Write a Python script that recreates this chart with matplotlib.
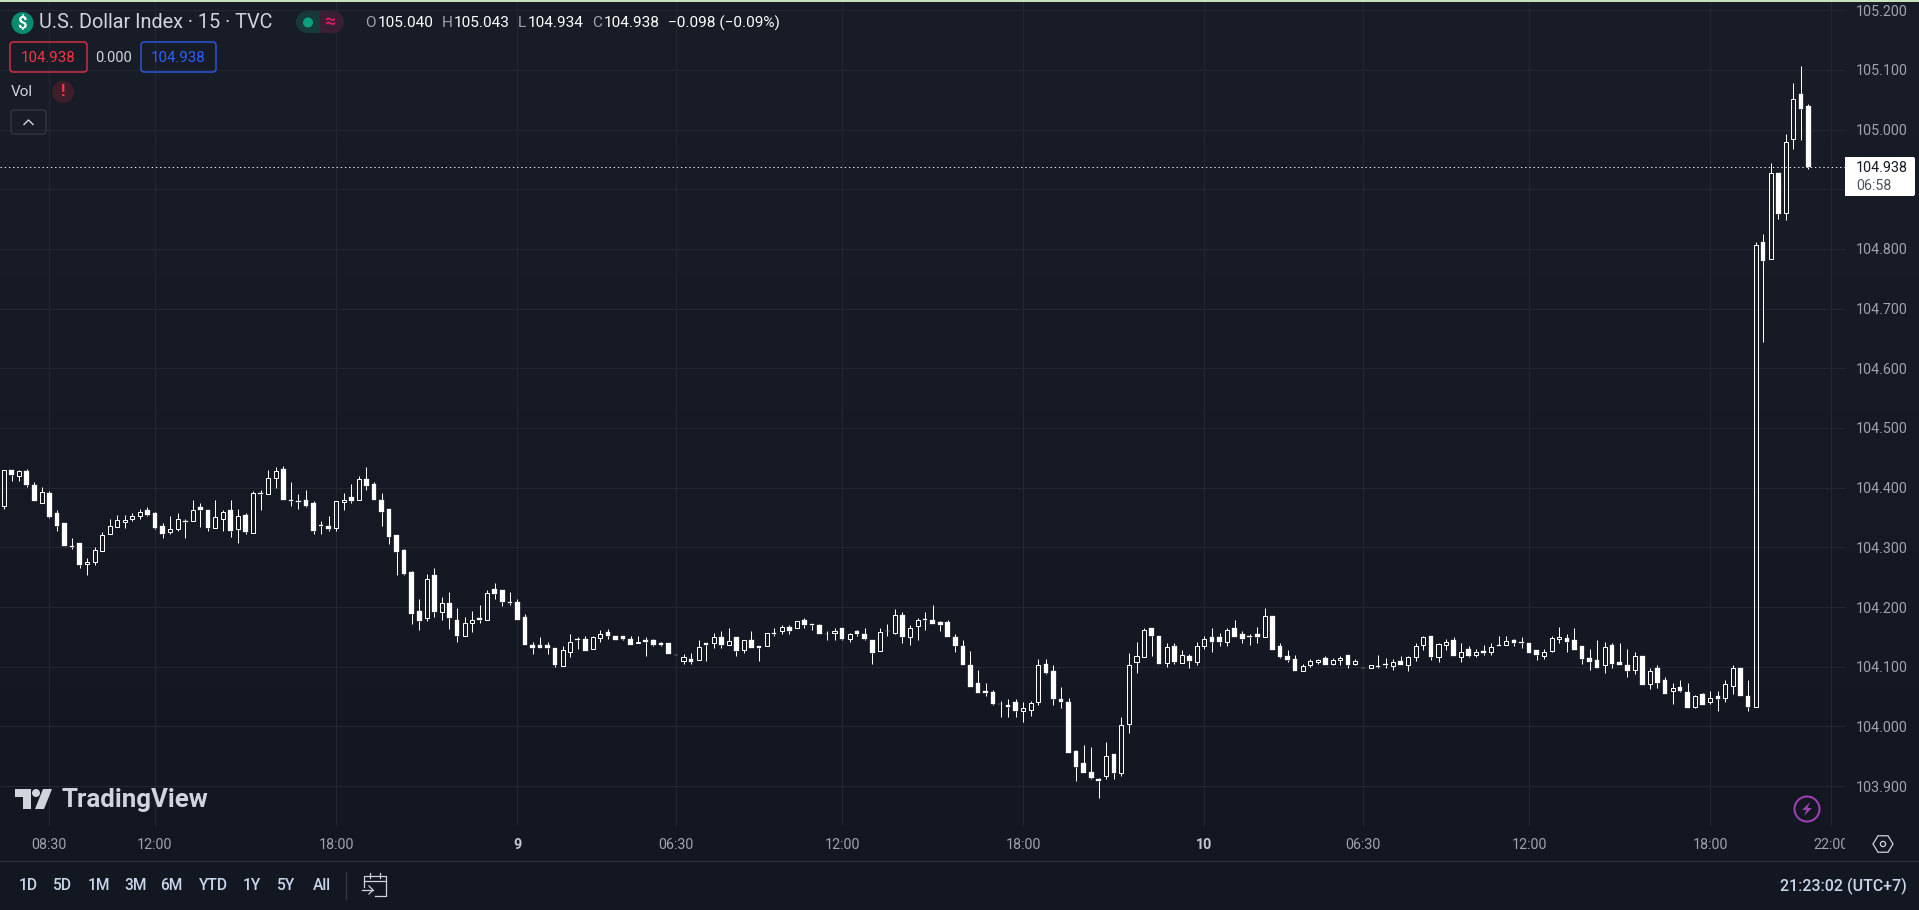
import numpy as np
import matplotlib
matplotlib.use("Agg")
import matplotlib.pyplot as plt
from matplotlib.patches import Circle, FancyBboxPatch, Polygon, Rectangle, Ellipse
from matplotlib.transforms import Bbox

# prices are stored in thousandths above BASE
BASE = 104.0
opens_m = [369,430,420,428,404,374,391,357,340,303,
307,272,275,294,322,334,343,348,353,362,
357,335,326,331,344,344,367,362,332,347,
362,331,354,324,391,389,416,431,380,377,
379,374,337,335,332,376,384,380,414,406,
379,364,320,295,258,194,182,253,192,206,
179,151,173,181,178,230,228,209,208,183,
137,136,137,131,101,125,146,146,130,148,
158,152,151,146,139,145,145,140,139,120,
109,113,111,139,139,150,137,149,128,145,
134,135,157,159,167,164,179,172,170,155,
156,164,147,160,155,145,126,160,156,187,
149,168,180,179,175,175,150,135,103,72,
60,58,38,36,41,25,28,40,105,93,
46,41,-42,-61,-76,-88,-84,-46,-78,4,
107,117,165,152,106,135,106,118,107,134,
150,149,141,165,155,152,154,149,185,134,
118,113,93,103,108,115,104,111,120,104,
98,98,101,104,101,110,103,116,137,152,
117,137,144,117,130,120,127,124,136,137,
144,142,139,128,118,127,146,148,145,134,
115,112,102,137,108,103,94,118,71,98,
77,60,66,58,32,55,41,51,47,67,
97,51,32,811,784,927,861,984,1059,1040]
highs_m = [430,430,430,431,409,401,394,362,340,315,
307,282,301,325,347,355,354,357,364,367,
359,340,352,357,347,379,374,362,380,362,
380,364,357,394,396,429,434,437,409,389,
396,377,344,352,378,391,406,419,434,409,
391,365,320,297,260,213,255,266,216,225,
199,184,194,203,228,241,228,225,214,188,
141,149,141,131,134,154,149,151,152,161,
163,152,152,151,152,149,147,142,139,120,
122,123,144,140,157,160,164,149,145,160,
135,156,165,170,170,177,182,172,172,160,
165,165,157,162,165,145,165,172,196,191,
169,182,192,204,177,179,155,145,127,95,
73,61,43,46,46,41,43,113,113,103,
66,48,-39,-32,-34,-86,-27,-46,16,123,
142,165,165,152,139,139,128,122,142,152,
164,157,164,179,159,155,167,199,185,140,
128,120,105,113,113,118,115,118,120,113,
98,103,120,115,113,118,118,139,152,152,
140,147,149,139,135,130,137,140,152,152,
147,150,140,128,130,152,167,155,164,134,
130,144,142,140,139,130,125,118,97,102,
82,73,77,72,53,56,60,60,78,103,
97,78,812,825,944,927,992,1078,1107,1043]
lows_m = [364,411,411,401,377,374,349,328,303,297,
265,253,270,294,322,334,332,344,347,352,
330,315,323,327,315,344,334,328,332,327,
318,308,323,324,362,389,399,379,370,365,
367,323,322,327,328,362,375,379,396,379,
335,305,253,253,171,161,176,183,179,163,
141,151,158,174,178,214,201,204,179,137,
122,131,122,99,101,116,129,127,130,141,
146,144,144,137,139,118,134,135,122,119,
105,105,111,110,132,132,137,118,123,132,
110,134,152,155,155,164,164,162,154,145,
145,145,142,152,145,105,126,152,154,139,
137,144,162,172,159,149,125,102,66,56,
51,35,16,16,16,8,18,36,87,35,
31,-44,-91,-78,-88,-120,-88,-89,-84,-11,
90,117,118,105,100,105,106,97,103,130,
125,135,134,149,139,137,140,149,128,115,
108,93,92,100,105,103,103,102,97,103,
97,97,97,98,95,102,92,110,128,112,
108,128,118,108,117,117,120,120,134,137,
135,132,123,112,113,125,140,125,128,105,
95,97,90,98,102,83,87,70,63,65,
55,38,58,30,30,35,38,26,41,55,
51,25,32,644,784,851,849,968,982,934]
closes_m = [430,421,428,404,377,393,350,335,303,301,
270,276,296,321,336,345,346,353,359,355,
332,322,331,347,343,363,362,332,350,360,
328,352,325,391,389,417,428,380,377,376,
370,328,336,330,378,380,377,415,402,379,
360,318,293,256,189,176,247,191,207,181,
151,174,178,179,224,221,208,206,179,137,
132,132,132,102,128,142,145,127,149,154,
152,144,146,137,142,142,137,137,122,119,
117,108,133,137,150,137,143,127,144,132,
131,156,154,166,160,177,169,169,154,154,
160,147,155,155,147,123,158,159,187,149,
165,178,179,172,169,149,134,102,66,56,
56,38,37,33,25,31,39,103,90,45,
41,-44,-68,-78,-86,-91,-50,-79,2,103,
118,161,152,105,133,108,120,110,135,147,
142,142,161,150,147,149,149,185,128,117,
112,93,101,109,112,103,111,114,103,109,
97,102,99,103,108,102,117,135,150,117,
138,142,118,124,118,125,123,133,135,143,
139,139,123,120,125,148,150,142,128,113,
108,97,133,105,102,92,118,70,93,73,
55,64,60,30,51,36,47,45,71,98,
51,33,807,780,928,858,979,1052,1035,938]

time_tick_bars = [6, 20, 44, 68, 89, 111, 135, 159, 180, 202, 226, 242]
time_tick_labels = ["08:30", "12:00", "18:00", "9", "06:30", "12:00", "18:00", "10",
                    "06:30", "12:00", "18:00", "22:00"]
price_ticks = [103.9, 104.0, 104.1, 104.2, 104.3, 104.4, 104.5, 104.6, 104.7,
               104.8, 104.9, 105.0, 105.1, 105.2]
hidden_price_label = 104.9  # sits under the last-price tag in the reference
ranges = ["1D", "5D", "1M", "3M", "6M", "YTD", "1Y", "5Y", "All"]
range_x = [28, 62, 99, 135.5, 171, 213, 252, 286.5, 322]

W, H = 1919, 910
FONT = "Roboto"
plt.rcParams["font.family"] = [FONT, "DejaVu Sans"]
GRID = "#232733"
GREY = "#A0A3AC"
LIGHT = "#D1D4DC"

opens = BASE + np.array(opens_m) / 1000
highs = BASE + np.array(highs_m) / 1000
lows = BASE + np.array(lows_m) / 1000
closes = BASE + np.array(closes_m) / 1000
idx = np.arange(len(opens))

fig = plt.figure(figsize=(W / 100, H / 100), dpi=100, facecolor="#131722")

# background gradient
bg = fig.add_axes([0, 0, 1, 1], zorder=0)
top_c = np.array([25, 29, 40]) / 255
bot_c = np.array([19, 23, 34]) / 255
t = np.clip(np.linspace(0, 1, H) / (826 / 910), 0, 1)[:, None, None]
bg.imshow(top_c[None, None, :] * (1 - t) + bot_c[None, None, :] * t, aspect="auto", extent=[0, W, H, 0])
bg.axis("off")

# main pane
PX_TOP, PX_BOT, PX_RIGHT = 2, 826, 1845
BAR_S, BAR_0 = 7.55, 4.0
PX_PER_UNIT, PX_AT_1052 = 596.7, 10.3
ax = fig.add_axes([0, (H - PX_BOT) / H, PX_RIGHT / W, (PX_BOT - PX_TOP) / H], zorder=1)
ax.patch.set_alpha(0)
for s in ax.spines.values():
    s.set_visible(False)
ax.set_xlim(-BAR_0 / BAR_S, (PX_RIGHT - BAR_0) / BAR_S)
ax.set_ylim(105.2 - (PX_BOT - PX_AT_1052) / PX_PER_UNIT, 105.2 + (PX_AT_1052 - PX_TOP) / PX_PER_UNIT)
ax.set_xticks(time_tick_bars)
ax.set_xticklabels(time_tick_labels)
ax.set_yticks(price_ticks)
ax.set_yticklabels(["" if p == hidden_price_label else f"{p:.3f}" for p in price_ticks])
ax.grid(True, color=GRID, lw=0.8)
ax.set_axisbelow(True)
ax.tick_params(axis="both", length=0, labelcolor=GREY, labelsize=10.3)
ax.tick_params(axis="y", left=False, labelleft=False, right=False, labelright=True, pad=8)
ax.tick_params(axis="x", pad=8.5)
clip = Bbox([[0, 0], [PX_RIGHT, H]])
for lab in ax.get_xticklabels():
    lab.set_clip_box(clip)
    lab.set_clip_on(True)
    if lab.get_text() in ("9", "10"):
        lab.set_color("#C4C7D0")
        lab.set_fontweight("bold")

# candles
LW = 0.72
top = np.maximum(opens, closes)
bot = np.minimum(opens, closes)
ax.vlines(idx, top, highs, color="white", lw=LW, zorder=3)
ax.vlines(idx, lows, bot, color="white", lw=LW, zorder=3)
up = closes > opens
ax.bar(idx[up], (top - bot)[up], bottom=bot[up], width=0.53, facecolor="none",
       edgecolor="white", linewidth=LW, zorder=4)
ax.bar(idx[~up], np.maximum((top - bot)[~up], 0.0008), bottom=bot[~up], width=0.62, facecolor="white",
       edgecolor="white", linewidth=0.2, zorder=4)
last = closes[-1]
ax.axhline(last, color="#E8E9EC", lw=LW, ls=(0, (1.4, 2.8)), zorder=2)

# interface layer in pixel coordinates
ui = fig.add_axes([0, 0, 1, 1], zorder=2)
ui.set_xlim(0, W)
ui.set_ylim(H, 0)
ui.axis("off")
ui.patch.set_alpha(0)


def txt(x, y, s, size=10.3, color=LIGHT, ha="left", weight="normal"):
    ui.text(x, y, s, fontsize=size, color=color, ha=ha, va="center", fontweight=weight)


def rbox(x0, y0, x1, y1, ec, fc="none", r=3, lw=0.9):
    ui.add_patch(FancyBboxPatch((x0 + r, y0 + r), x1 - x0 - 2 * r, y1 - y0 - 2 * r,
                                boxstyle=f"round,pad={r},rounding_size={r}", ec=ec, fc=fc, lw=lw))


# top strip
ui.add_patch(Rectangle((0, 0), W, 2, fc="#C5E3BC", ec="none"))

# header
ui.add_patch(Circle((22.5, 23), 11, fc="#0B8A70", ec="none"))
txt(22.5, 23, "$", size=12, color="white", ha="center", weight="bold")
txt(39, 23, "U.S. Dollar Index · 15 · TVC", size=14.3, color=LIGHT)
ui.add_patch(Rectangle((307, 11), 13, 22, fc="#17393A", ec="none"))
ui.add_patch(Circle((307, 22), 11, fc="#17393A", ec="none"))
ui.add_patch(Rectangle((320, 11), 13, 22, fc="#3A1E33", ec="none"))
ui.add_patch(Circle((333, 22), 11, fc="#3A1E33", ec="none"))
ui.add_patch(Circle((308, 22.5), 5, fc="#0E9F80", ec="none"))
txt(331, 22, "≈", size=14, color="#D81B60", ha="center", weight="bold")

ohlc = [(365, "O", GREY), (378, "105.040", "white"), (442, "H", GREY), (454, "105.043", "white"),
        (518, "L", GREY), (528, "104.934", "white"), (592, "C", GREY), (604, "104.938", "white"),
        (668, "−0.098 (−0.09%)", "white")]
for x, s, c in ohlc:
    txt(x, 23, s, size=11.1, color=c)

rbox(10, 42, 87, 72, "#F23645")
txt(48.5, 57.5, "104.938", size=10.8, color="#F23645", ha="center")
txt(113, 57.5, "0.000", size=10.5, color=LIGHT, ha="center")
rbox(141, 42, 216, 72, "#2962FF")
txt(178.5, 57.5, "104.938", size=10.8, color="#2962FF", ha="center")

txt(11, 92, "Vol", size=11, color=LIGHT)
ui.add_patch(Ellipse((63, 92), 22, 22, fc="#3D1F2A", ec="none"))
txt(63, 92, "!", size=12, color="#F23645", ha="center", weight="bold")
rbox(11, 110, 46, 134, "#363A45")
ui.plot([24, 28.5, 33], [124.5, 120, 124.5], color=LIGHT, lw=1)

# logo
ui.add_patch(Polygon([(15, 789), (31, 789), (31, 809), (23, 809), (23, 797), (15, 797)], fc=LIGHT, ec="none"))
ui.add_patch(Circle((36, 793), 4, fc=LIGHT, ec="none"))
ui.add_patch(Polygon([(43, 789), (52, 789), (44, 809), (35, 809)], fc=LIGHT, ec="none"))
txt(61, 800.5, "TradingView", size=18.6, color=LIGHT, weight="bold")

# last price tag
rbox(1845, 157, 1915, 196, "white", fc="white", r=2, lw=0)
ui.add_patch(Rectangle((1845, 157), 10, 39, fc="white", ec="none"))
txt(1856, 168, f"{last:.3f}", size=10.3, color="#131722")
txt(1856, 186, "06:58", size=10.3, color="#50535E")

# lightning
ui.add_patch(Circle((1807, 809), 12.5, fc="none", ec="#9C3FB0", lw=1.5))
ui.add_patch(Polygon([(1810, 802), (1802, 810), (1806.5, 810), (1804, 816), (1812, 808), (1807.5, 808)],
                     fc="#9C3FB0", ec="none"))

# settings hexagon
ang = np.deg2rad(np.arange(0, 360, 60))
ui.add_patch(Polygon(np.c_[1883 + 10 * np.cos(ang), 844 + 9.5 * np.sin(ang)], fc="none", ec=LIGHT, lw=0.9))
ui.add_patch(Circle((1883, 844), 2.6, fc="none", ec=LIGHT, lw=0.9))

# footer
ui.plot([0, W], [861, 861], color="#2A2E39", lw=0.9)
for x, s in zip(range_x, ranges):
    txt(x, 886, s, size=11.2, color="#C9D6EA", ha="center", weight="medium")
ui.plot([346, 346], [872, 899], color="#363A45", lw=0.9)
cal = dict(color=LIGHT, lw=0.9)
ui.plot([364, 364, 386, 386, 375], [887, 876, 876, 896, 896], **cal)
ui.plot([364, 386], [881, 881], **cal)
ui.plot([370, 370], [873, 878], **cal)
ui.plot([380, 380], [873, 878], **cal)
ui.plot([362, 373], [890, 890], **cal)
ui.plot([369, 373, 369], [886, 890, 894], **cal)
txt(1907, 886, "21:23:02 (UTC+7)", size=11.4, color="#C9D6EA", ha="right", weight="medium")

fig.savefig("out.png", dpi=100, facecolor=fig.get_facecolor())
